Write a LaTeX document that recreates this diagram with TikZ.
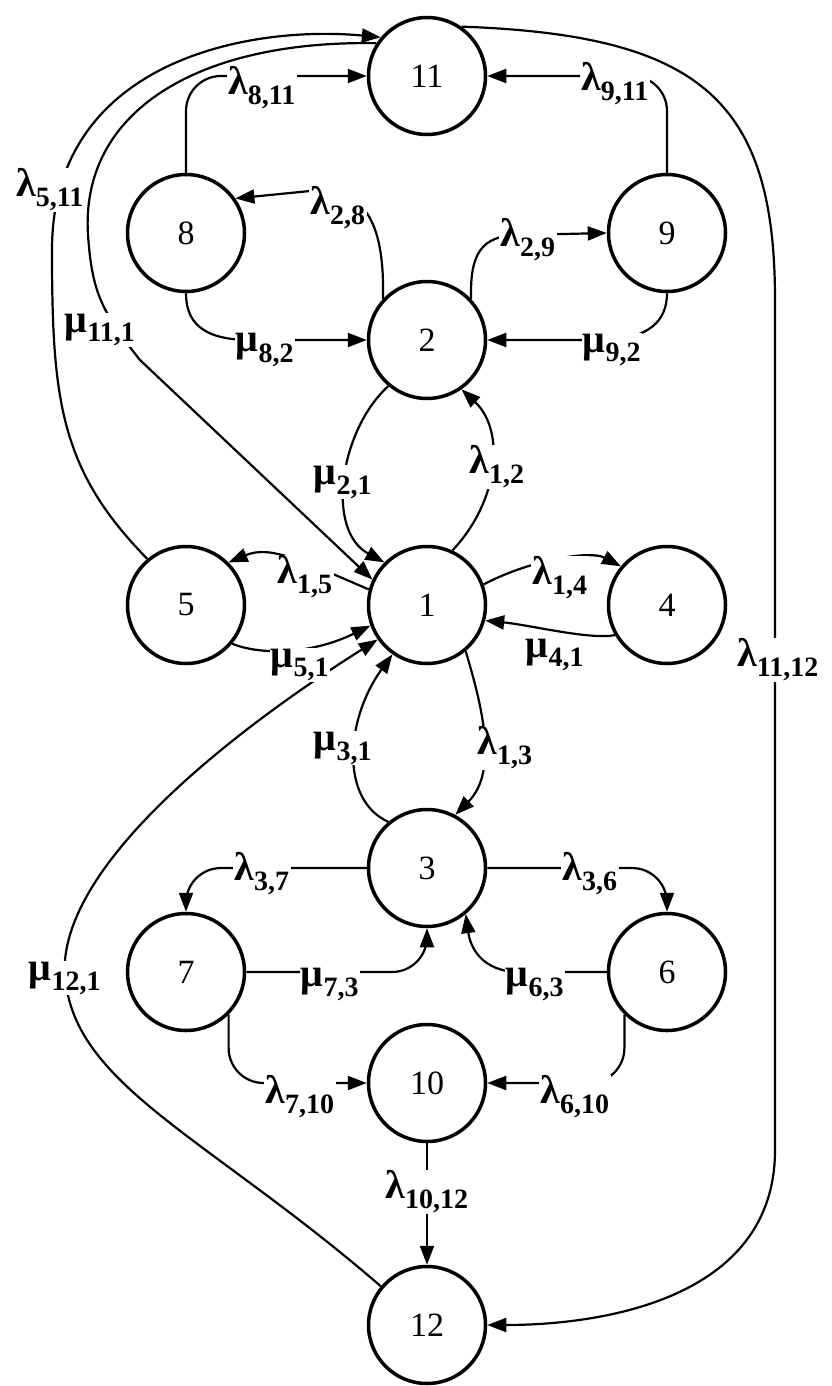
\documentclass[tikz,border=0pt]{standalone}
\usepackage{fontspec}
\setmainfont{Liberation Serif}
\usetikzlibrary{arrows.meta}
\begin{document}
\begin{tikzpicture}[x=1pt,y=-1pt,
  st/.style={circle,draw,line width=3.5pt,minimum size=117pt,inner sep=0pt,font=\fontsize{34}{36}\selectfont},
  ed/.style={line width=2.2pt,-{Triangle[length=19pt,width=14pt]}},
  lab/.style={fill=white,inner sep=1pt,font=\bfseries\fontsize{40}{42}\selectfont}]
\useasboundingbox (0,0) rectangle (831,1386);
\node[st] (n11) at (427,76) {11};
\node[st] (n8) at (186,233) {8};
\node[st] (n9) at (667,233) {9};
\node[st] (n2) at (427,340) {2};
\node[st] (n5) at (186,605) {5};
\node[st] (n1) at (427,605) {1};
\node[st] (n4) at (667,605) {4};
\node[st] (n3) at (427,868) {3};
\node[st] (n7) at (186,972) {7};
\node[st] (n6) at (667,972) {6};
\node[st] (n10) at (427,1083) {10};
\node[st] (n12) at (427,1325) {12};
\begin{scope}[rounded corners=35pt]
\draw[ed] (n8.north) |- (n11.west);
\draw[ed] (n9.north) |- (n11.east);
\draw[ed] (n3.west) -| (n7.north);
\draw[ed] (n3.east) -| (n6.north);
\draw[ed] (n7.east) -| (n3.south);
\draw[ed] (n7.-45) |- (n10.west);
\draw[ed] (n6.-135) |- (n10.east);
\end{scope}
\draw[ed] (n2.137) .. controls (385,215) and (360,192) .. (320,190) -- (n8.35);
\draw[ed] (n2.43) .. controls (470,255) and (480,235) .. (520,235) -- (n9.west);
\draw[ed] (n8.south) .. controls (186,320) and (200,340) .. (250,340) -- (n2.west);
\draw[ed] (n9.south) .. controls (667,320) and (650,340) .. (600,340) -- (n2.east);
\draw[ed] (n2.230) .. controls (340,430) and (325,530) .. (n1.135);
\draw[ed] (n1.65) .. controls (500,500) and (505,430) .. (n2.-55);
\draw[ed] (n1.165) .. controls (300,560) and (270,545) .. (n5.45);
\draw[ed] (n11.147) .. controls (200,40) and (80,110) .. (88,235) .. controls (92,290) and (100,310) .. (140,360) -- (n1.155);
\draw[ed] (n5.130) .. controls (60,470) and (52,400) .. (52,250) .. controls (52,60) and (250,25) .. (n11.140);
\draw[ed] (n5.-40) .. controls (260,655) and (310,655) .. (n1.200);
\draw[ed] (n12.140) .. controls (200,1130) and (60,1080) .. (65,960) .. controls (75,850) and (250,720) .. (n1.215);
\draw[ed] (n1.20) .. controls (530,560) and (590,550) .. (n4.140);
\draw[ed] (n4.-150) .. controls (590,640) and (530,625) .. (n1.-15);
\draw[ed] (n1.-50) .. controls (480,700) and (500,770) .. (n3.62);
\draw[ed] (n3.130) .. controls (340,800) and (345,720) .. (n1.-125);
\draw[ed] (n6.west) -- (520,972) .. controls (480,972) and (470,945) .. (n3.-50);
\draw[ed] (n10.south) -- (n12.north);
\draw[ed] (n11.55) .. controls (700,35) and (775,100) .. (775,300) -- (775,1150) .. controls (775,1300) and (600,1325) .. (n12.east);
\node[lab] (l811) at (262,88) {λ\textsubscript{8,11}};
\node[lab] (l911) at (615,84) {λ\textsubscript{9,11}};
\node[lab] (l511) at (50,190) {λ\textsubscript{5,11}};
\node[lab] (l28) at (338,208) {λ\textsubscript{2,8}};
\node[lab] (l29) at (528,240) {λ\textsubscript{2,9}};
\node[lab] (m111) at (100,330) {μ\textsubscript{11,1}};
\node[lab] (m82) at (265,350) {μ\textsubscript{8,2}};
\node[lab] (m92) at (612,350) {μ\textsubscript{9,2}};
\node[lab] (m21) at (343,482) {μ\textsubscript{2,1}};
\node[lab] (l12) at (497,467) {λ\textsubscript{1,2}};
\node[lab] (l15) at (305,577) {λ\textsubscript{1,5}};
\node[lab] (l14) at (560,578) {λ\textsubscript{1,4}};
\node[lab] (m51) at (300,665) {μ\textsubscript{5,1}};
\node[lab] (m41) at (555,655) {μ\textsubscript{4,1}};
\node[lab] (l1112) at (778,660) {λ\textsubscript{11,12}};
\node[lab] (m31) at (343,748) {μ\textsubscript{3,1}};
\node[lab] (l13) at (505,748) {λ\textsubscript{1,3}};
\node[lab] (l37) at (262,874) {λ\textsubscript{3,7}};
\node[lab] (l36) at (590,874) {λ\textsubscript{3,6}};
\node[lab] (m121) at (65,978) {μ\textsubscript{12,1}};
\node[lab] (m73) at (330,984) {μ\textsubscript{7,3}};
\node[lab] (m63) at (535,984) {μ\textsubscript{6,3}};
\node[lab] (l710) at (300,1097) {λ\textsubscript{7,10}};
\node[lab] (l610) at (575,1097) {λ\textsubscript{6,10}};
\node[lab] (l1012) at (427,1192) {λ\textsubscript{10,12}};
\end{tikzpicture}
\end{document}
